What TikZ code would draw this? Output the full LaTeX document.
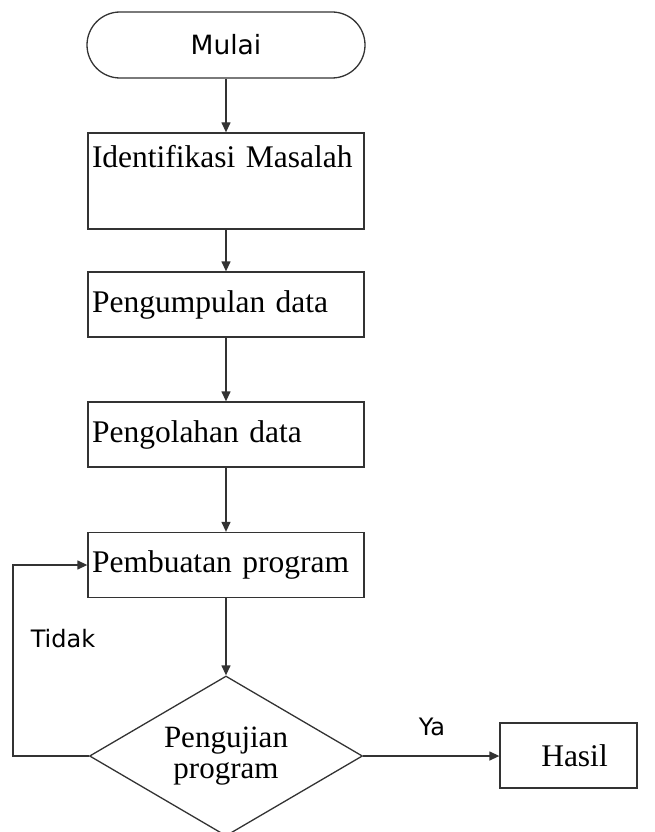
\documentclass[tikz,border=0pt]{standalone}
\usepackage{fontspec}
\setmainfont{Liberation Serif}
\newfontfamily\labelfont{DejaVu Sans}
\usetikzlibrary{arrows.meta,shapes.geometric}

\begin{document}
\begin{tikzpicture}[x=1pt,y=-1pt,
  line width=1.3pt,
  every node/.style={draw=black!80, line width=1.3pt, inner sep=0pt},
  flowarrow/.style={draw=black!80, -{Triangle[length=10pt,width=9pt]}},
  terminal/.style={minimum width=278pt, minimum height=66pt, rounded corners=33pt,
    font=\labelfont\fontsize{26.5}{29}\selectfont},
  stepbox/.style={minimum width=276pt, minimum height=65pt, text width=268pt,
    align=left, font=\fontsize{31.5}{35}\selectfont},
  decision/.style={diamond, shape aspect=1.7, minimum width=273pt, minimum height=160pt,
    align=center, font=\fontsize{31}{31}\selectfont},
  endbox/.style={minimum width=137pt, minimum height=65pt,
    font=\fontsize{31.5}{35}\selectfont},
  tag/.style={draw=none, font=\labelfont\fontsize{24}{26}\selectfont}]

  \useasboundingbox (0,0) rectangle (654,832);

  % main column
  \node[terminal] (start) at (226,45) {Mulai};
  \node[stepbox, text height=34pt, text depth=62pt] (ident) at (226,181) {Identifikasi Masalah};
  \node[stepbox] (collect) at (226,304.5) {Pengumpulan data};
  \node[stepbox] (process) at (226,434.5) {Pengolahan data};
  \node[stepbox] (build) at (226,565) {Pembuatan program};
  \node[decision] (test) at (226,756) {Pengujian\\program};
  \node[endbox] (result) at (568.5,755.5) {\hspace*{12pt}Hasil};

  % loop-back corner
  \coordinate (loop) at (13,756);

  % connectors
  \draw[flowarrow] (start) -- (ident);
  \draw[flowarrow] (ident) -- (collect);
  \draw[flowarrow] (collect) -- (process);
  \draw[flowarrow] (process) -- (build);
  \draw[flowarrow] (build) -- (test);
  \draw[flowarrow] (test.east) -- (result.west |- test.east);
  \draw[flowarrow] (test.west) -- (loop) |- (build.west);

  % branch labels
  \node[tag] (no) at (63,639) {Tidak};
  \node[tag] (yes) at (432,727) {Ya};
\end{tikzpicture}
\end{document}
